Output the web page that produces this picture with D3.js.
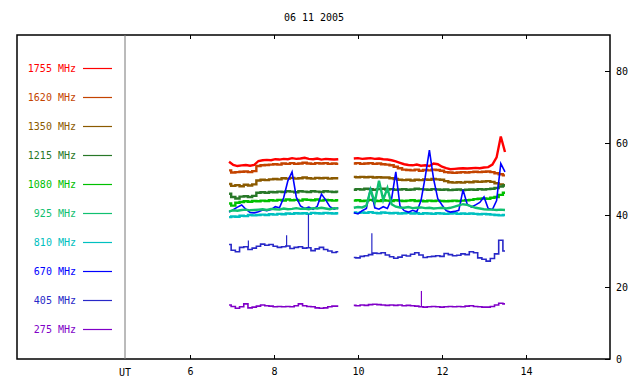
<!DOCTYPE html>
<html><head><meta charset="utf-8">
<script src="https://cdn.jsdelivr.net/npm/d3@7"></script>
<style>
body{margin:0;background:#fff}
svg{display:block}
text{font-family:"DejaVu Sans Mono","Liberation Mono",monospace;font-size:10px}
</style>
</head><body>
<svg id="chart" width="640" height="384"></svg>
<script>
// ---------- data ----------
const title = "06 11 2005";
const freqLabels = ["1755 MHz","1620 MHz","1350 MHz","1215 MHz","1080 MHz","925 MHz","810 MHz","670 MHz","405 MHz","275 MHz"];
const xTicks = [6, 8, 10, 12, 14];
const yTicks = [0, 20, 40, 60, 80];
const axisName = "UT";

// sampling grids (hours UT): segment 1 starts 6.93, segment 2 starts 9.90, 0.1 h apart
const seg1Start = 6.93, seg2Start = 9.90, sampleStep = 0.1;

// segment 1 values (27 samples)
const f1755a = [54.8,53.9,53.6,53.8,53.9,53.7,53.9,55.0,55.2,55.3,55.2,55.5,55.4,55.6,55.5,55.8,55.6,55.7,55.9,55.6,55.5,55.7,55.4,55.6,55.5,55.4,55.5];
const f1620a = [52.4,51.8,51.9,52.0,52.1,51.9,52.2,53.6,53.8,53.9,54.0,54.1,54.0,54.3,54.2,54.4,54.2,54.3,54.5,54.3,54.2,54.4,54.3,54.4,54.2,54.3,54.2];
const f1350a = [48.6,48.1,48.3,48.0,48.4,48.2,48.5,49.6,49.8,49.7,49.9,50.0,49.9,50.2,50.1,50.3,50.1,50.2,50.4,50.2,50.1,50.3,50.2,50.3,50.1,50.2,50.2];
const f1215a = [45.9,45.0,44.6,45.1,45.2,45.0,45.3,46.2,46.3,46.2,46.4,46.3,46.5,46.4,46.6,46.5,46.3,46.6,46.5,46.4,46.6,46.5,46.4,46.6,46.5,46.4,46.5];
const f1080a = [43.2,42.6,43.4,43.6,43.8,43.7,43.9,43.8,44.0,43.9,44.1,44.0,44.2,44.0,44.3,44.1,44.2,44.0,44.3,44.2,44.1,44.3,44.0,44.2,44.1,44.0,44.1];
const f925a  = [41.0,41.3,41.2,41.4,41.5,41.3,41.4,41.5,41.6,41.4,41.7,41.6,41.5,41.8,41.6,41.7,41.9,41.7,41.8,41.6,41.9,41.8,42.0,41.8,41.6,41.9,41.8];
const f810a  = [39.4,39.6,39.5,39.8,39.7,40.0,39.9,40.0,40.1,40.0,40.2,40.1,40.3,40.2,40.4,40.3,40.5,40.4,40.5,40.3,40.6,40.5,40.4,40.6,40.5,40.4,40.5];
const f670a  = [40.8,41.5,42.2,42.8,41.6,40.7,40.6,40.9,41.4,41.2,41.5,42.3,42.0,44.8,49.5,52.0,45.0,42.5,41.8,42.2,41.6,42.4,45.8,44.2,42.3,41.6,42.0];
const f405a  = [31.8,30.2,29.8,31.0,31.2,30.4,30.8,31.3,31.9,31.6,31.8,31.3,31.0,31.2,31.4,30.7,31.0,31.2,30.8,30.9,30.1,30.6,31.0,30.4,30.0,29.6,29.8];
const f275a  = [15.0,14.6,14.1,14.5,15.3,14.2,14.4,14.7,15.0,14.8,14.7,14.5,14.6,14.5,14.6,14.5,14.8,15.3,14.8,14.6,14.5,14.2,14.1,14.2,14.5,14.7,14.7];

// segment 2 values (37 samples)
const f1755b = [55.7,55.8,55.6,55.7,55.8,55.6,55.7,55.5,55.4,55.2,54.9,54.5,54.1,53.9,53.8,54.0,53.7,53.8,53.6,54.3,54.1,53.4,53.0,52.7,52.8,52.9,53.0,52.9,53.0,53.1,53.0,53.2,53.3,54.0,56.0,61.8,57.5];
const f1620b = [54.3,54.4,54.2,54.3,54.4,54.2,54.3,54.1,54.0,53.8,53.4,53.0,52.6,52.5,52.4,52.6,52.3,52.5,52.4,52.6,52.5,52.3,51.9,51.8,51.7,51.8,51.9,51.8,51.9,52.0,51.9,52.0,52.1,51.9,51.6,51.3,51.0];
const f1350b = [50.6,50.5,50.6,50.5,50.6,50.4,50.5,50.4,50.4,50.2,50.0,49.8,49.7,49.8,49.6,49.8,49.7,49.9,49.8,50.0,49.9,49.8,49.4,49.1,49.0,49.1,49.0,49.2,49.1,49.3,49.2,49.3,49.4,49.2,48.8,48.5,48.3];
const f1215b = [47.0,47.2,47.1,47.3,47.2,47.0,47.2,47.3,47.1,47.2,47.0,47.1,47.2,47.0,47.1,47.3,47.2,47.1,47.0,47.2,47.1,47.0,47.1,46.9,47.0,47.1,46.9,47.0,47.1,47.0,47.2,47.1,47.2,47.3,47.5,47.9,48.2];
const f1080b = [44.0,44.1,43.9,44.0,44.2,44.0,43.9,44.1,44.0,43.9,44.1,44.0,43.9,44.0,44.1,43.9,44.0,43.8,44.0,43.9,44.0,43.9,43.8,43.9,44.0,43.9,44.0,44.1,44.2,44.4,44.5,44.6,44.5,44.8,45.0,45.6,46.2];
const f925b  = [42.0,42.2,42.1,42.6,47.0,43.5,49.5,44.2,47.5,43.0,42.3,42.1,42.0,42.2,41.9,42.0,42.1,41.9,42.0,41.8,41.9,42.0,41.8,42.0,42.3,42.7,43.0,42.8,42.4,42.0,41.8,41.6,41.5,41.5,41.4,41.5,41.4];
const f810b  = [40.7,40.6,40.7,40.6,40.8,40.6,40.5,40.7,40.6,40.5,40.6,40.4,40.5,40.6,40.4,40.5,40.3,40.5,40.4,40.3,40.5,40.4,40.3,40.4,40.5,40.3,40.4,40.3,40.4,40.3,40.2,40.3,40.2,40.1,40.0,39.9,40.0];
const f670b  = [40.6,40.3,41.2,41.8,47.5,42.0,41.6,42.3,41.8,44.5,52.0,42.5,41.2,40.8,41.3,40.9,44.0,50.5,58.0,50.0,44.5,42.8,41.2,40.8,41.0,41.3,47.0,43.0,42.2,42.8,43.5,45.0,41.8,41.5,44.0,54.3,52.0];
const f405b  = [28.2,28.1,28.5,28.7,29.0,29.4,29.3,29.5,28.9,28.4,28.0,28.3,28.8,28.6,29.1,29.5,28.9,28.2,28.4,28.5,28.7,28.5,29.3,29.0,28.7,28.8,29.2,29.0,29.8,29.5,28.1,27.7,27.2,27.9,29.2,33.0,30.0];
const f275b  = [14.9,14.8,15.0,14.9,15.1,15.2,15.1,15.0,14.9,15.0,14.9,15.0,14.8,14.9,14.8,14.7,14.5,14.4,14.5,14.6,14.5,14.4,14.5,14.6,14.5,14.6,14.5,14.7,14.8,14.6,14.5,14.4,14.4,14.6,15.0,15.5,15.3];

// narrow single-sample spikes: series index, time, low value, peak value
const spikeSeries = [8, 8, 8, 8, 9];
const spikeTimes  = [7.39, 8.30, 8.82, 10.33, 11.51];
const spikeLow    = [31.0, 31.2, 30.9, 29.0, 14.6];
const spikeHigh   = [32.9, 34.4, 40.2, 34.9, 18.9];

// ---------- styles ----------
const colors = ["#ff0000","#c44400","#8b5a00","#287828","#00c000","#10c070","#00c0c0","#0000ff","#2828c8","#8000c8"];
const segA = [f1755a,f1620a,f1350a,f1215a,f1080a,f925a,f810a,f670a,f405a,f275a];
const segB = [f1755b,f1620b,f1350b,f1215b,f1080b,f925b,f810b,f670b,f405b,f275b];
const drawOrder = [0,1,2,3,4,6,7,5,8,9];

// ---------- layout ----------
const svg = d3.select("#chart");
const frame = {left: 17, top: 35, right: 610, bottom: 359};
const x = d3.scaleLinear().domain([6, 14]).range([190, 526]);
const y = d3.scaleLinear().domain([0, 90]).range([frame.bottom, frame.top]);
const sepX = 125;

// title
svg.append("text").attr("x", 314).attr("y", 21).attr("text-anchor", "middle").attr("fill", "#000").text(title);

// frame
svg.append("rect").attr("x", frame.left).attr("y", frame.top)
  .attr("width", frame.right - frame.left).attr("height", frame.bottom - frame.top)
  .attr("fill", "none").attr("stroke", "#000").attr("stroke-width", 1.5);
// separator
svg.append("line").attr("x1", sepX).attr("x2", sepX).attr("y1", frame.top).attr("y2", frame.bottom)
  .attr("stroke", "#777").attr("stroke-width", 1);

// bottom axis
const gx = svg.append("g").attr("transform", `translate(0,${frame.bottom})`)
  .call(d3.axisBottom(x).tickValues(xTicks).tickSize(-4).tickPadding(9).tickFormat(d3.format("d")));
gx.select(".domain").remove();
gx.selectAll("line").attr("stroke", "#000");
gx.selectAll("text").attr("font-size", "10px").attr("font-family", "DejaVu Sans Mono, monospace");
svg.append("text").attr("x", sepX).attr("y", frame.bottom + 17).attr("text-anchor", "middle").text(axisName);

// top ticks
const gt = svg.append("g").attr("transform", `translate(0,${frame.top})`)
  .call(d3.axisTop(x).tickValues(xTicks).tickSize(-4).tickFormat(""));
gt.select(".domain").remove();
gt.selectAll("line").attr("stroke", "#000");

// right axis
const gy = svg.append("g").attr("transform", `translate(${frame.right},0)`)
  .call(d3.axisRight(y).tickValues(yTicks).tickSize(-5).tickPadding(6).tickFormat(d3.format("d")));
gy.select(".domain").remove();
gy.selectAll("line").attr("stroke", "#000");
gy.selectAll("text").attr("font-size", "10px").attr("font-family", "DejaVu Sans Mono, monospace")
  .attr("dy", "0.32em");

// legend
const ly = d3.scalePoint().domain(freqLabels).range([68, 329]);
const leg = svg.append("g");
freqLabels.forEach((lab, i) => {
  leg.append("text").attr("x", 76).attr("y", ly(lab)).attr("dy", "0.35em")
    .attr("text-anchor", "end").attr("fill", colors[i]).text(lab);
  leg.append("line").attr("x1", 83).attr("x2", 112).attr("y1", ly(lab) + 0.5).attr("y2", ly(lab) + 0.5)
    .attr("stroke", colors[i]).attr("stroke-width", 1.2);
});

// series
const stepLine = d3.line().x(d => x(d[0])).y(d => y(d[1])).curve(d3.curveStep);
const linLine = d3.line().x(d => x(d[0])).y(d => y(d[1])).curve(d3.curveLinear);
const plot = svg.append("g");
drawOrder.forEach(i => {
  const lw = (i >= 7) ? 1.6 : 2.4;
  const gen = (i === 0 || i === 5 || i === 7) ? linLine : stepLine;
  [[seg1Start, segA[i]], [seg2Start, segB[i]]].forEach(([t0, vals]) => {
    const pts = vals.map((v, k) => [t0 + k * sampleStep, v]);
    plot.append("path").attr("d", gen(pts)).attr("fill", "none")
      .attr("stroke", colors[i]).attr("stroke-width", lw).attr("stroke-linejoin", "miter");
  });
  spikeSeries.forEach((s, k) => {
    if (s !== i) return;
    plot.append("line").attr("x1", x(spikeTimes[k])).attr("x2", x(spikeTimes[k]))
      .attr("y1", y(spikeLow[k])).attr("y2", y(spikeHigh[k]))
      .attr("stroke", colors[i]).attr("stroke-width", 1.2);
  });
});
</script>
</body></html>
